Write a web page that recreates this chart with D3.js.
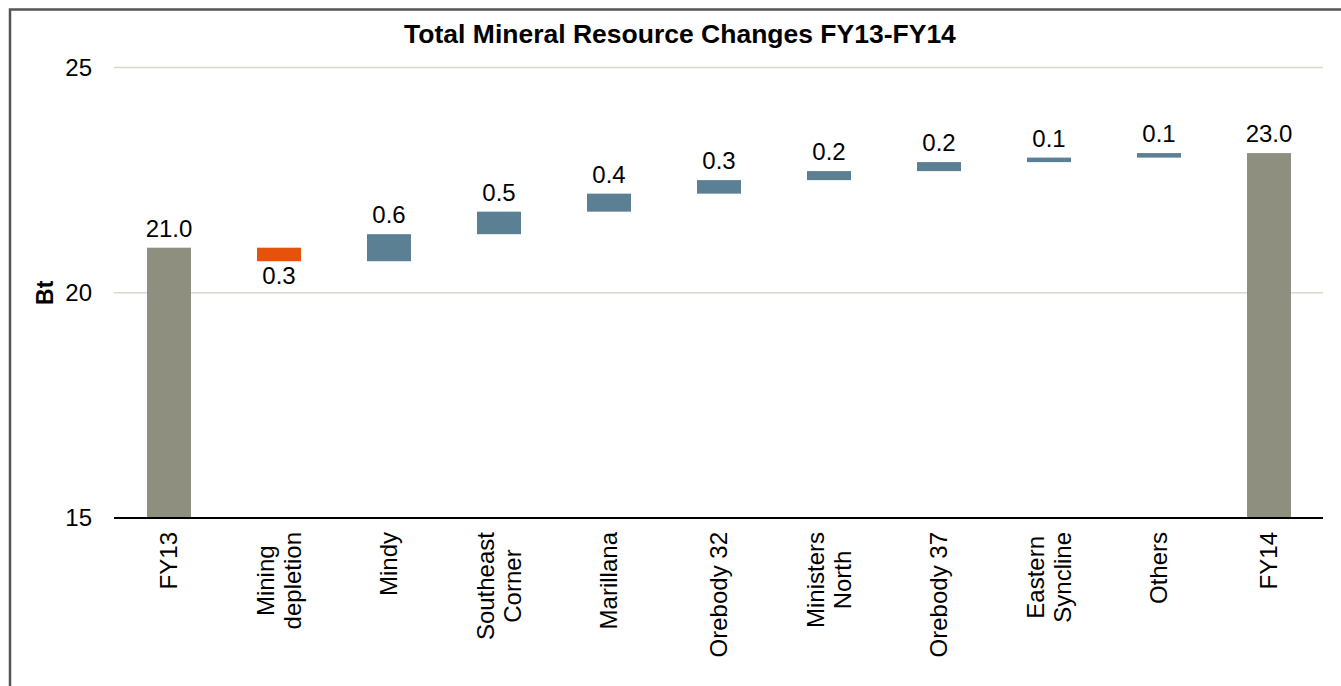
<!DOCTYPE html>
<html>
<head>
<meta charset="utf-8">
<script src="https://cdn.jsdelivr.net/npm/d3@7"></script>
<style>
  body { margin: 0; background: #fff; }
  text { font-family: "Liberation Sans", Arial, sans-serif; fill: #000; }
</style>
</head>
<body>
<div id="chart"></div>
<script>
// data
const categories = ["FY13", "Mining depletion", "Mindy", "Southeast Corner", "Marillana",
  "Orebody 32", "Ministers North", "Orebody 37", "Eastern Syncline", "Others", "FY14"];
const labelLines = [["FY13"], ["Mining", "depletion"], ["Mindy"], ["Southeast", "Corner"], ["Marillana"],
  ["Orebody 32"], ["Ministers", "North"], ["Orebody 37"], ["Eastern", "Syncline"], ["Others"], ["FY14"]];
const changes = [21.0, -0.3, 0.6, 0.5, 0.4, 0.3, 0.2, 0.2, 0.1, 0.1, 23.1];
const kinds = ["total", "down", "up", "up", "up", "up", "up", "up", "up", "up", "total"];
const valueLabels = ["21.0", "0.3", "0.6", "0.5", "0.4", "0.3", "0.2", "0.2", "0.1", "0.1", "23.0"];
const yTicks = [15, 20, 25];

const W = 1341, H = 686;
const margin = {top: 67.5, left: 114, right: 18, bottom: 168};
const colors = {total: "#8f8f7f", up: "#5b7f93", down: "#e5520c"};

// build floating segments
let running = 0;
const rows = categories.map((c, i) => {
  let y0, y1;
  if (kinds[i] == "total") { y0 = 15; y1 = changes[i]; running = changes[i]; }
  else { y0 = running; y1 = running + changes[i]; running = y1; }
  return {cat: c, lines: labelLines[i], kind: kinds[i], lo: Math.min(y0, y1), hi: Math.max(y0, y1), label: valueLabels[i]};
});

const svg = d3.select("#chart").append("svg").attr("width", W).attr("height", H);

// outer frame
svg.append("rect").attr("x", 10).attr("y", 9.5).attr("width", W + 20).attr("height", H + 20)
  .attr("fill", "none").attr("stroke", "#555").attr("stroke-width", 2.5);

const x = d3.scaleBand().domain(categories).range([margin.left, W - margin.right + 1]).paddingInner(0.6).paddingOuter(0.3);
const y = d3.scaleLinear().domain([15, 25]).range([H - margin.bottom, margin.top]);

// gridlines
svg.append("g").selectAll("line").data(yTicks.filter(t => t > 15)).join("line")
  .attr("x1", margin.left).attr("x2", W - margin.right)
  .attr("y1", d => y(d)).attr("y2", d => y(d))
  .attr("stroke", "#d8d8cc").attr("stroke-width", 1.5);

// y tick labels
svg.append("g").selectAll("text").data(yTicks).join("text")
  .attr("x", 92).attr("y", d => y(d)).attr("dy", "0.35em")
  .attr("text-anchor", "end").style("font-size", "24px").text(d => d);

// y axis title
svg.append("text").attr("transform", "translate(45," + y(20) + ") rotate(-90)")
  .attr("dy", "0.35em").attr("text-anchor", "middle")
  .style("font-size", "23px").style("font-weight", "bold").text("Bt");

// title
svg.append("text").attr("x", 680).attr("y", 43).attr("text-anchor", "middle")
  .style("font-size", "26.5px").style("font-weight", "bold")
  .text("Total Mineral Resource Changes FY13-FY14");

// bars
svg.append("g").selectAll("rect").data(rows).join("rect")
  .attr("x", d => x(d.cat)).attr("width", x.bandwidth())
  .attr("y", d => y(d.hi)).attr("height", d => y(d.lo) - y(d.hi))
  .attr("fill", d => colors[d.kind]);

// value labels
svg.append("g").selectAll("text").data(rows).join("text")
  .attr("x", d => x(d.cat) + x.bandwidth() / 2)
  .attr("y", d => d.kind == "down" ? y(d.lo) + 23 : y(d.hi) - 11)
  .attr("text-anchor", "middle").style("font-size", "24px")
  .text(d => d.label);

// x axis line
svg.append("line").attr("x1", margin.left).attr("x2", W - margin.right)
  .attr("y1", y(15)).attr("y2", y(15)).attr("stroke", "#000").attr("stroke-width", 2.2);

// category labels, rotated, block anchored at top, lines centered in block
const labelTop = 532, lineGap = 27;
rows.forEach(d => {
  const g = svg.append("g");
  const t = g.append("text").attr("text-anchor", "middle").style("font-size", "24px");
  const n = d.lines.length;
  d.lines.forEach((ln, j) => {
    t.append("tspan").attr("x", 0).attr("y", (j - (n - 1) / 2) * lineGap).attr("dy", "0.35em").text(ln);
  });
  let maxW = 0;
  t.selectAll("tspan").each(function() { maxW = Math.max(maxW, this.getComputedTextLength()); });
  g.attr("transform", "translate(" + (x(d.cat) + x.bandwidth() / 2) + "," + (labelTop + maxW / 2) + ") rotate(-90)");
});
</script>
</body>
</html>
